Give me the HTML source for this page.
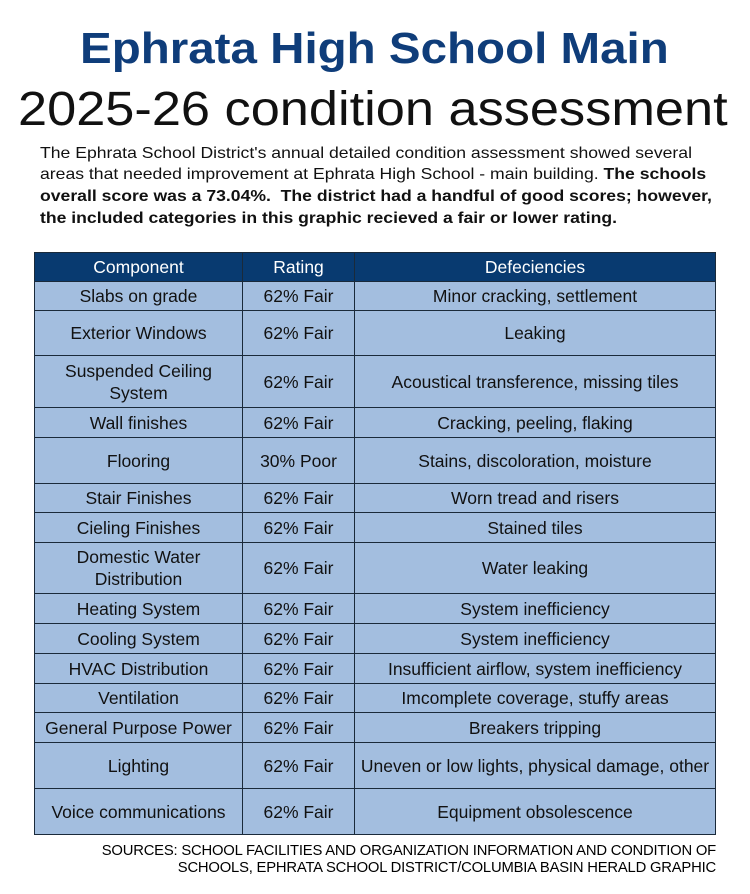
<!DOCTYPE html>
<html><head><meta charset="utf-8"><style>
body{margin:0;width:750px;height:894px;background:#fff;font-family:"Liberation Sans",sans-serif;position:relative;overflow:hidden}
.t{position:absolute;white-space:nowrap;transform-origin:left top}
.p{position:absolute;left:40px;font-size:16px;white-space:nowrap;color:#111;transform-origin:left top;transform:scaleX(1.1)}
table{position:absolute;left:34px;top:252px;width:682px;border-collapse:collapse;font-size:17.5px}
td,th{border:1px solid #1a2a3a;text-align:center;padding:0 2px;line-height:22px}
th{background:#083a70;color:#fff;font-weight:normal;height:28px}
td{background:#a3bedf;color:#111}
.src{position:absolute;right:34px;top:843px;font-size:14.8px;text-align:right;line-height:17px;letter-spacing:-0.2px}
</style></head><body>
<div class="t" style="left:80px;top:24px;font-size:44px;font-weight:bold;color:#0f3d7a;transform:scaleX(1.08)">Ephrata High School Main</div>
<div class="t" style="left:18px;top:82px;font-size:48px;color:#111;transform:scaleX(1.09)">2025-26 condition assessment</div>
<div class="p" style="top:145px">The Ephrata School District's annual detailed condition assessment showed several</div>
<div class="p" style="top:166px">areas that needed improvement at Ephrata High School - main building. <b>The schools</b></div>
<div class="p" style="top:188px"><b>overall score was a 73.04%.&nbsp; The district had a handful of good scores; however,</b></div>
<div class="p" style="top:210px"><b>the included categories in this graphic recieved a fair or lower rating.</b></div>
<table>
<tr><th style="width:203px">Component</th><th style="width:107px">Rating</th><th>Defeciencies</th></tr>
<tr style="height:29px"><td>Slabs on grade</td><td>62% Fair</td><td>Minor cracking, settlement</td></tr>
<tr style="height:45px"><td>Exterior Windows</td><td>62% Fair</td><td>Leaking</td></tr>
<tr style="height:52px"><td>Suspended Ceiling<br>System</td><td>62% Fair</td><td>Acoustical transference, missing tiles</td></tr>
<tr style="height:30px"><td>Wall finishes</td><td>62% Fair</td><td>Cracking, peeling, flaking</td></tr>
<tr style="height:46px"><td>Flooring</td><td>30% Poor</td><td>Stains, discoloration, moisture</td></tr>
<tr style="height:29px"><td>Stair Finishes</td><td>62% Fair</td><td>Worn tread and risers</td></tr>
<tr style="height:30px"><td>Cieling Finishes</td><td>62% Fair</td><td>Stained tiles</td></tr>
<tr style="height:51px"><td>Domestic Water<br>Distribution</td><td>62% Fair</td><td>Water leaking</td></tr>
<tr style="height:30px"><td>Heating System</td><td>62% Fair</td><td>System inefficiency</td></tr>
<tr style="height:30px"><td>Cooling System</td><td>62% Fair</td><td>System inefficiency</td></tr>
<tr style="height:30px"><td>HVAC Distribution</td><td>62% Fair</td><td>Insufficient airflow, system inefficiency</td></tr>
<tr style="height:29px"><td>Ventilation</td><td>62% Fair</td><td>Imcomplete coverage, stuffy areas</td></tr>
<tr style="height:30px"><td>General Purpose Power</td><td>62% Fair</td><td>Breakers tripping</td></tr>
<tr style="height:46px"><td>Lighting</td><td>62% Fair</td><td>Uneven or low lights, physical damage, other</td></tr>
<tr style="height:46px"><td>Voice communications</td><td>62% Fair</td><td>Equipment obsolescence</td></tr>
</table>
<div class="src">SOURCES: SCHOOL FACILITIES AND ORGANIZATION INFORMATION AND CONDITION OF<br>SCHOOLS, EPHRATA SCHOOL DISTRICT/COLUMBIA BASIN HERALD GRAPHIC</div>
</body></html>
